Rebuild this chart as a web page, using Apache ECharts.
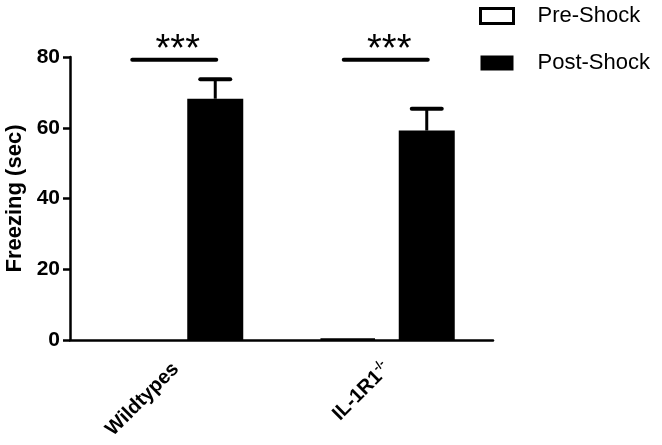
<!DOCTYPE html>
<html>
<head>
<meta charset="utf-8">
<script src="https://cdn.jsdelivr.net/npm/echarts@6/dist/echarts.min.js"></script>
<style>html,body{margin:0;padding:0;background:#fff}#c{width:662px;height:445px}</style>
</head>
<body>
<div id="c"></div>
<script>
const categories = ['Wildtypes', 'IL-1R1-/-'];
const preShock = [0, 0.4];
const postShock = [68.2, 59.2];
const postSEM = [5.5, 6.2];
const sigLevel = [79.2, 79.2];
const sigLabel = ['***', '***'];
const yTicks = [0, 20, 40, 60, 80];

const FONT = 'Liberation Sans, Arial, sans-serif';
const BAR_W = 56;
const BAR_GAP = 23;
const OFF = (BAR_W + BAR_GAP) / 2;

const chart = echarts.init(document.getElementById('c'));
chart.setOption({
  animation: false,
  backgroundColor: '#fff',
  grid: { left: 70, right: 169, top: 57, bottom: 105, containLabel: false, outerBoundsMode: 'none' },
  legend: {
    orient: 'vertical', left: 474, top: 0,
    itemWidth: 33, itemHeight: 15, itemGap: 25,
    icon: 'rect',
    textStyle: { fontFamily: FONT, fontSize: 22, color: '#000', padding: [0, 0, 0, 19] },
    data: [
      { name: 'Pre-Shock', itemStyle: { color: '#fff', borderColor: '#000', borderWidth: 3 } },
      { name: 'Post-Shock', itemStyle: { color: '#000', borderColor: '#000', borderWidth: 0 } }
    ]
  },
  xAxis: {
    type: 'category', data: categories,
    axisLine: { lineStyle: { color: '#000', width: 2.5 } },
    axisTick: { alignWithLabel: true, length: 7, lineStyle: { color: '#000', width: 2.5 } },
    axisLabel: {
      rotate: 45, margin: 26, color: '#000',
      fontFamily: FONT, fontWeight: 'bold', fontSize: 20,
      formatter: function (v) {
        if (v.indexOf('-/-') > 0) return '{a|' + v.replace('-/-', '') + '}{s|-/-}';
        return '{a|' + v + '}';
      },
      rich: {
        a: { fontFamily: FONT, fontWeight: 'bold', fontSize: 20, color: '#000' },
        s: { fontFamily: FONT, fontWeight: 'bold', fontSize: 12, color: '#000', verticalAlign: 'top', padding: [0, 0, 12, 0] }
      }
    }
  },
  yAxis: {
    type: 'value', min: 0, max: 80, interval: 20,
    name: 'Freezing (sec)', nameLocation: 'middle', nameGap: 40,
    nameTextStyle: { fontFamily: FONT, fontWeight: 'bold', fontSize: 22, color: '#000' },
    axisLine: { show: true, lineStyle: { color: '#000', width: 2.5 } },
    axisTick: { show: true, length: 7, lineStyle: { color: '#000', width: 2.5 } },
    splitLine: { show: false },
    axisLabel: {
      margin: 10, color: '#000', fontFamily: FONT, fontWeight: 'bold', fontSize: 21,
      formatter: function (v) { return yTicks.indexOf(v) >= 0 ? String(v) : ''; }
    }
  },
  series: [
    {
      name: 'Pre-Shock', type: 'bar',
      data: preShock.map(v => ({ value: v, itemStyle: { borderWidth: v > 0 ? 2 : 0 } })),
      barWidth: BAR_W, barGap: (BAR_GAP / BAR_W * 100) + '%',
      itemStyle: { color: '#fff', borderColor: '#000', borderWidth: 2 }
    },
    {
      name: 'Post-Shock', type: 'bar', data: postShock,
      barWidth: BAR_W,
      itemStyle: { color: '#000', borderColor: '#000', borderWidth: 0 }
    },
    {
      name: 'err', type: 'custom', silent: true, z: 5,
      data: postShock.map((v, i) => [i, v, v + postSEM[i]]),
      renderItem: function (params, api) {
        const lo = api.coord([api.value(0), api.value(1)]);
        const hi = api.coord([api.value(0), api.value(2)]);
        const x = lo[0] + OFF;
        return {
          type: 'group', children: [
            { type: 'line', shape: { x1: x, y1: lo[1], x2: x, y2: hi[1] }, style: { stroke: '#000', lineWidth: 3 } },
            { type: 'line', shape: { x1: x - 15, y1: hi[1], x2: x + 15, y2: hi[1] }, style: { stroke: '#000', lineWidth: 4, lineCap: 'round' } }
          ]
        };
      }
    },
    {
      name: 'sig', type: 'custom', silent: true, z: 5,
      data: sigLevel.map((v, i) => [i, v]),
      renderItem: function (params, api) {
        const p = api.coord([api.value(0), api.value(1)]);
        const i = api.value(0);
        return {
          type: 'group', children: [
            { type: 'line', shape: { x1: p[0] - OFF - 4, y1: p[1], x2: p[0] + OFF + 1, y2: p[1] }, style: { stroke: '#000', lineWidth: 4, lineCap: 'round' } },
            { type: 'text', x: p[0] + 2, y: p[1] - 28, style: { text: sigLabel[i], fill: '#000', font: '38px ' + FONT, align: 'center', verticalAlign: 'top' } }
          ]
        };
      }
    }
  ]
});
</script>
</body>
</html>
